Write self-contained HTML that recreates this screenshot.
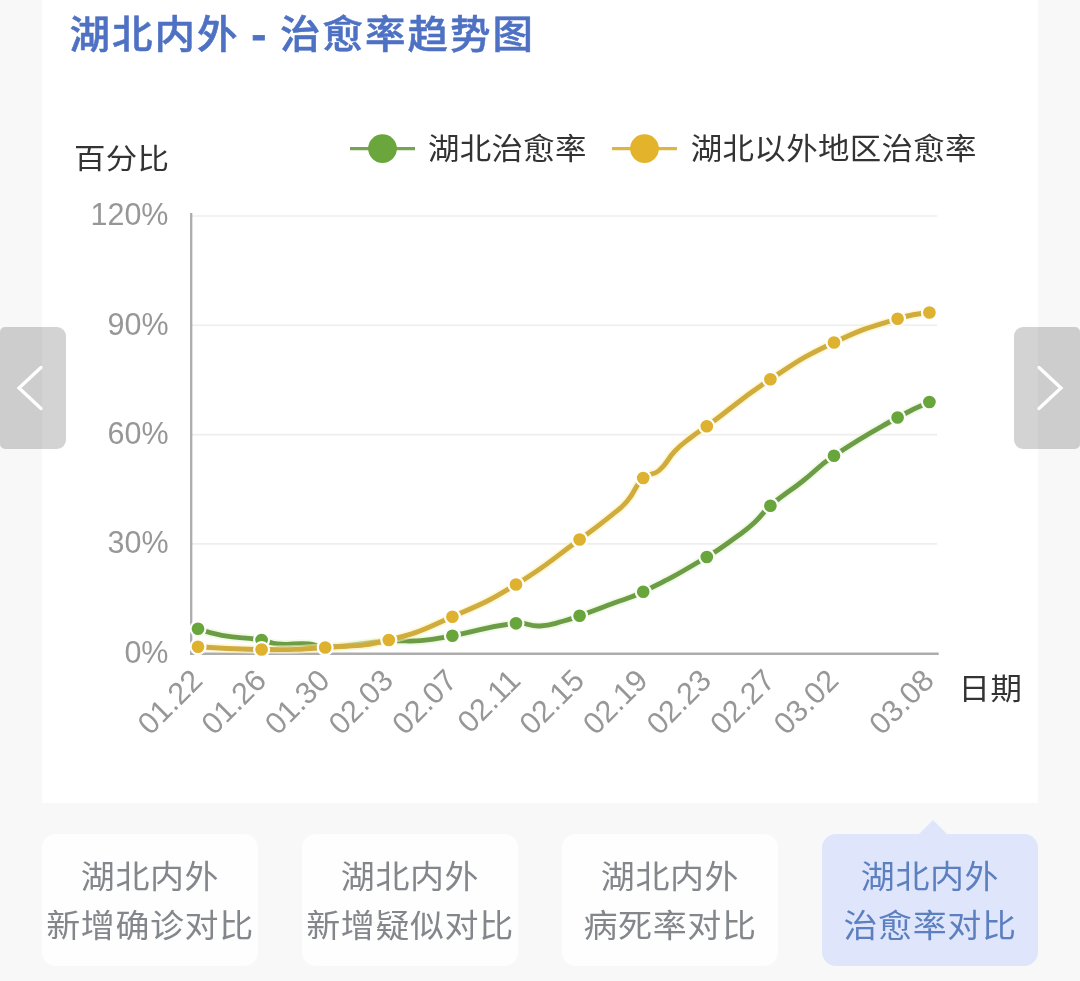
<!DOCTYPE html>
<html lang="zh-CN">
<head>
<meta charset="utf-8">
<title>湖北内外 - 治愈率趋势图</title>
<style>
*{margin:0;padding:0;box-sizing:border-box}
html,body{width:1080px;height:981px;overflow:hidden}
body{background:#f8f8f8;font-family:"Liberation Sans","Noto Sans CJK SC",sans-serif;position:relative}
h1 b{font-weight:700;-webkit-text-stroke:.9px #4e71c4;display:inline-block;transform:scaleX(1.08)}
.card{position:absolute;left:42px;top:0;width:996px;height:802.6px;background:#fff}
h1{position:absolute;left:69.5px;top:5.2px;font-size:40.5px;line-height:60px;font-weight:500;-webkit-text-stroke:.55px #4e71c4;color:#4e71c4;white-space:nowrap;letter-spacing:2px;word-spacing:-.8px;transform-origin:0 50%;transform:scaleY(.95)}
svg.chart{position:absolute;left:0;top:0;width:1080px;height:981px}
svg .ax{font-family:"Liberation Sans",sans-serif;font-size:30.5px;fill:#979797}
svg .lg{font-family:"Liberation Sans","Noto Sans CJK SC",sans-serif;font-size:31.5px;fill:#333;letter-spacing:.3px}
.nav{position:absolute;top:327px;width:66px;height:122px;background:rgba(0,0,0,.172)}
.nav.prev{left:0;border-radius:5px 9px 9px 5px}
.nav.next{right:0;border-radius:9px 5px 5px 9px}
.nav svg{position:absolute;left:0;top:0;width:66px;height:122px}
.tabs{position:absolute;left:0;top:833.6px;width:1080px;height:132.4px}
.tab{position:absolute;top:0;width:216px;height:132.4px;border-radius:14px;background:#fefefe;color:#83868b;font-size:34px;line-height:49.5px;text-align:center;padding-top:19.4px;white-space:nowrap;letter-spacing:.6px}
.tab span{display:block;transform:scaleY(.94)}
.tab.on{background:#dfe6fb;color:#5c7fbf}
.tab.on:before{content:"";position:absolute;left:96.5px;top:-13.5px;border-left:14px solid transparent;border-right:14px solid transparent;border-bottom:14px solid #dfe6fb}
</style>
</head>
<body>
<div class="card"></div>
<h1>湖北内外 <b>-</b> 治愈率趋势图</h1>
<svg class="chart" viewBox="0 0 1080 981">
<line x1="191" y1="216.0" x2="937" y2="216.0" stroke="#eeeeee" stroke-width="1.6"/>
<line x1="191" y1="325.3" x2="937" y2="325.3" stroke="#eeeeee" stroke-width="1.6"/>
<line x1="191" y1="434.6" x2="937" y2="434.6" stroke="#eeeeee" stroke-width="1.6"/>
<line x1="191" y1="543.9" x2="937" y2="543.9" stroke="#eeeeee" stroke-width="1.6"/>
<line x1="191.2" y1="213" x2="191.2" y2="654.9" stroke="#adadad" stroke-width="2.3"/>
<line x1="190" y1="653.7" x2="938.7" y2="653.7" stroke="#adadad" stroke-width="2.4"/>
<text class="ax" x="168.5" y="225.3" text-anchor="end">120%</text>
<text class="ax" x="168.5" y="334.6" text-anchor="end">90%</text>
<text class="ax" x="168.5" y="443.9" text-anchor="end">60%</text>
<text class="ax" x="168.5" y="553.2" text-anchor="end">30%</text>
<text class="ax" x="168.5" y="662.6" text-anchor="end">0%</text>
<text class="ax" text-anchor="end" transform="translate(204.3 682.2) rotate(-45)" x="0" y="0">01.22</text>
<text class="ax" text-anchor="end" transform="translate(267.9 682.2) rotate(-45)" x="0" y="0">01.26</text>
<text class="ax" text-anchor="end" transform="translate(331.5 682.2) rotate(-45)" x="0" y="0">01.30</text>
<text class="ax" text-anchor="end" transform="translate(395.1 682.2) rotate(-45)" x="0" y="0">02.03</text>
<text class="ax" text-anchor="end" transform="translate(458.7 682.2) rotate(-45)" x="0" y="0">02.07</text>
<text class="ax" text-anchor="end" transform="translate(522.3 682.2) rotate(-45)" x="0" y="0">02.11</text>
<text class="ax" text-anchor="end" transform="translate(585.9 682.2) rotate(-45)" x="0" y="0">02.15</text>
<text class="ax" text-anchor="end" transform="translate(649.5 682.2) rotate(-45)" x="0" y="0">02.19</text>
<text class="ax" text-anchor="end" transform="translate(713.1 682.2) rotate(-45)" x="0" y="0">02.23</text>
<text class="ax" text-anchor="end" transform="translate(776.7 682.2) rotate(-45)" x="0" y="0">02.27</text>
<text class="ax" text-anchor="end" transform="translate(840.3 682.2) rotate(-45)" x="0" y="0">03.02</text>
<text class="ax" text-anchor="end" transform="translate(935.7 682.2) rotate(-45)" x="0" y="0">03.08</text>
<path d="M198.00 628.75 C198.00 628.75 209.70 633.15 221.85 635.30 C241.50 638.78 241.86 636.91 261.60 640.00 C269.69 641.26 269.39 643.32 277.50 644.00 C293.24 645.32 293.51 642.91 309.30 644.00 C317.36 644.56 317.15 647.60 325.20 647.30 C356.90 646.10 356.95 643.24 388.80 641.00 C404.65 639.89 404.79 641.91 420.60 640.60 C436.59 639.28 436.58 638.62 452.40 635.75 C484.28 629.97 484.09 626.86 516.00 623.30 C527.82 621.98 528.02 626.57 539.85 626.00 C551.87 625.42 551.92 624.04 563.70 621.00 C571.79 618.91 571.71 618.56 579.60 615.75 C595.56 610.06 595.54 609.98 611.40 604.00 C627.34 597.98 627.94 599.27 643.20 591.75 C675.64 575.77 675.66 575.46 706.80 557.00 C723.36 547.18 722.99 546.49 738.60 535.20 C746.84 529.24 747.05 529.40 754.50 522.50 C762.95 514.67 761.67 513.25 770.40 505.75 C785.52 492.75 786.48 493.86 802.20 481.50 C818.28 468.86 817.05 467.12 834.00 455.75 C864.75 435.12 865.30 435.70 897.60 417.50 C913.00 408.82 929.40 402.00 929.40 402.00" fill="none" stroke="#e4f6d2" stroke-opacity=".55" stroke-width="8.6" stroke-linecap="round" stroke-linejoin="round"/>
<path d="M198.00 628.75 C198.00 628.75 209.70 633.15 221.85 635.30 C241.50 638.78 241.86 636.91 261.60 640.00 C269.69 641.26 269.39 643.32 277.50 644.00 C293.24 645.32 293.51 642.91 309.30 644.00 C317.36 644.56 317.15 647.60 325.20 647.30 C356.90 646.10 356.95 643.24 388.80 641.00 C404.65 639.89 404.79 641.91 420.60 640.60 C436.59 639.28 436.58 638.62 452.40 635.75 C484.28 629.97 484.09 626.86 516.00 623.30 C527.82 621.98 528.02 626.57 539.85 626.00 C551.87 625.42 551.92 624.04 563.70 621.00 C571.79 618.91 571.71 618.56 579.60 615.75 C595.56 610.06 595.54 609.98 611.40 604.00 C627.34 597.98 627.94 599.27 643.20 591.75 C675.64 575.77 675.66 575.46 706.80 557.00 C723.36 547.18 722.99 546.49 738.60 535.20 C746.84 529.24 747.05 529.40 754.50 522.50 C762.95 514.67 761.67 513.25 770.40 505.75 C785.52 492.75 786.48 493.86 802.20 481.50 C818.28 468.86 817.05 467.12 834.00 455.75 C864.75 435.12 865.30 435.70 897.60 417.50 C913.00 408.82 929.40 402.00 929.40 402.00" fill="none" stroke="#6c9c46" stroke-width="4.9" stroke-linecap="round" stroke-linejoin="round"/>
<circle cx="198.00" cy="628.75" r="7.45" fill="#68a53b" stroke="#fff" stroke-width="2.2"/>
<circle cx="261.60" cy="640.00" r="7.45" fill="#68a53b" stroke="#fff" stroke-width="2.2"/>
<circle cx="325.20" cy="647.30" r="7.45" fill="#68a53b" stroke="#fff" stroke-width="2.2"/>
<circle cx="388.80" cy="641.00" r="7.45" fill="#68a53b" stroke="#fff" stroke-width="2.2"/>
<circle cx="452.40" cy="635.75" r="7.45" fill="#68a53b" stroke="#fff" stroke-width="2.2"/>
<circle cx="516.00" cy="623.30" r="7.45" fill="#68a53b" stroke="#fff" stroke-width="2.2"/>
<circle cx="579.60" cy="615.75" r="7.45" fill="#68a53b" stroke="#fff" stroke-width="2.2"/>
<circle cx="643.20" cy="591.75" r="7.45" fill="#68a53b" stroke="#fff" stroke-width="2.2"/>
<circle cx="706.80" cy="557.00" r="7.45" fill="#68a53b" stroke="#fff" stroke-width="2.2"/>
<circle cx="770.40" cy="505.75" r="7.45" fill="#68a53b" stroke="#fff" stroke-width="2.2"/>
<circle cx="834.00" cy="455.75" r="7.45" fill="#68a53b" stroke="#fff" stroke-width="2.2"/>
<circle cx="897.60" cy="417.50" r="7.45" fill="#68a53b" stroke="#fff" stroke-width="2.2"/>
<circle cx="929.40" cy="402.00" r="7.45" fill="#68a53b" stroke="#fff" stroke-width="2.2"/>

<path d="M198.00 646.75 C198.00 646.75 229.79 649.31 261.60 649.50 C293.39 649.69 293.50 649.87 325.20 647.50 C357.10 645.12 357.89 647.47 388.80 640.00 C421.49 632.10 421.42 630.27 452.40 616.75 C485.02 602.52 485.61 602.96 516.00 584.50 C549.21 564.33 548.07 562.37 579.60 539.50 C595.77 527.77 595.86 527.84 611.40 515.30 C619.71 508.59 620.41 509.08 627.30 501.00 C636.31 490.43 633.44 487.36 643.20 478.00 C649.34 472.11 652.56 476.05 659.10 470.50 C668.46 462.55 666.31 460.02 675.00 451.00 C682.21 443.52 682.68 443.90 690.90 437.50 C698.58 431.52 698.94 432.01 706.80 426.25 C738.69 402.88 737.43 400.96 770.40 379.25 C801.03 359.08 800.95 358.22 834.00 342.50 C864.55 327.97 865.31 328.90 897.60 318.75 C913.01 313.90 929.40 312.50 929.40 312.50" fill="none" stroke="#fff3b8" stroke-opacity=".55" stroke-width="8.6" stroke-linecap="round" stroke-linejoin="round"/>
<path d="M198.00 646.75 C198.00 646.75 229.79 649.31 261.60 649.50 C293.39 649.69 293.50 649.87 325.20 647.50 C357.10 645.12 357.89 647.47 388.80 640.00 C421.49 632.10 421.42 630.27 452.40 616.75 C485.02 602.52 485.61 602.96 516.00 584.50 C549.21 564.33 548.07 562.37 579.60 539.50 C595.77 527.77 595.86 527.84 611.40 515.30 C619.71 508.59 620.41 509.08 627.30 501.00 C636.31 490.43 633.44 487.36 643.20 478.00 C649.34 472.11 652.56 476.05 659.10 470.50 C668.46 462.55 666.31 460.02 675.00 451.00 C682.21 443.52 682.68 443.90 690.90 437.50 C698.58 431.52 698.94 432.01 706.80 426.25 C738.69 402.88 737.43 400.96 770.40 379.25 C801.03 359.08 800.95 358.22 834.00 342.50 C864.55 327.97 865.31 328.90 897.60 318.75 C913.01 313.90 929.40 312.50 929.40 312.50" fill="none" stroke="#cfac3d" stroke-width="4.9" stroke-linecap="round" stroke-linejoin="round"/>
<circle cx="198.00" cy="646.75" r="7.45" fill="#deb12f" stroke="#fff" stroke-width="2.2"/>
<circle cx="261.60" cy="649.50" r="7.45" fill="#deb12f" stroke="#fff" stroke-width="2.2"/>
<circle cx="325.20" cy="647.50" r="7.45" fill="#deb12f" stroke="#fff" stroke-width="2.2"/>
<circle cx="388.80" cy="640.00" r="7.45" fill="#deb12f" stroke="#fff" stroke-width="2.2"/>
<circle cx="452.40" cy="616.75" r="7.45" fill="#deb12f" stroke="#fff" stroke-width="2.2"/>
<circle cx="516.00" cy="584.50" r="7.45" fill="#deb12f" stroke="#fff" stroke-width="2.2"/>
<circle cx="579.60" cy="539.50" r="7.45" fill="#deb12f" stroke="#fff" stroke-width="2.2"/>
<circle cx="643.20" cy="478.00" r="7.45" fill="#deb12f" stroke="#fff" stroke-width="2.2"/>
<circle cx="706.80" cy="426.25" r="7.45" fill="#deb12f" stroke="#fff" stroke-width="2.2"/>
<circle cx="770.40" cy="379.25" r="7.45" fill="#deb12f" stroke="#fff" stroke-width="2.2"/>
<circle cx="834.00" cy="342.50" r="7.45" fill="#deb12f" stroke="#fff" stroke-width="2.2"/>
<circle cx="897.60" cy="318.75" r="7.45" fill="#deb12f" stroke="#fff" stroke-width="2.2"/>
<circle cx="929.40" cy="312.50" r="7.45" fill="#deb12f" stroke="#fff" stroke-width="2.2"/>

<line x1="350" y1="148.6" x2="415" y2="148.6" stroke="#78a354" stroke-width="3.2"/><circle cx="382.5" cy="148.6" r="14.4" fill="#6aa63c"/>
<line x1="612" y1="148.6" x2="677" y2="148.6" stroke="#dcb644" stroke-width="3.2"/><circle cx="644.5" cy="148.6" r="14.4" fill="#e2b32b"/>
<text class="lg" transform="translate(428.00 159.20) scale(1 0.940)">湖北治愈率</text>
<text class="lg" transform="translate(690.80 159.20) scale(1 0.940)">湖北以外地区治愈率</text>
<text class="lg" transform="translate(74.00 169.30) scale(1 0.920)">百分比</text>
<text class="lg" transform="translate(958.60 699.00) scale(1 0.940)">日期</text>
</svg>
<div class="nav prev"><svg viewBox="0 0 66 122"><polyline points="41,40.5 19,61 41,81.5" fill="none" stroke="#fff" stroke-width="3.3" stroke-linecap="round" stroke-linejoin="miter"/></svg></div>
<div class="nav next"><svg viewBox="0 0 66 122"><polyline points="25,40.5 47,61 25,81.5" fill="none" stroke="#fff" stroke-width="3.3" stroke-linecap="round" stroke-linejoin="miter"/></svg></div>
<div class="tabs">
<div class="tab" style="left:42.0px"><span>湖北内外</span><span>新增确诊对比</span></div>
<div class="tab" style="left:302.0px"><span>湖北内外</span><span>新增疑似对比</span></div>
<div class="tab" style="left:562.0px"><span>湖北内外</span><span>病死率对比</span></div>
<div class="tab on" style="left:822.0px"><span>湖北内外</span><span>治愈率对比</span></div>
</div>
</body>
</html>
